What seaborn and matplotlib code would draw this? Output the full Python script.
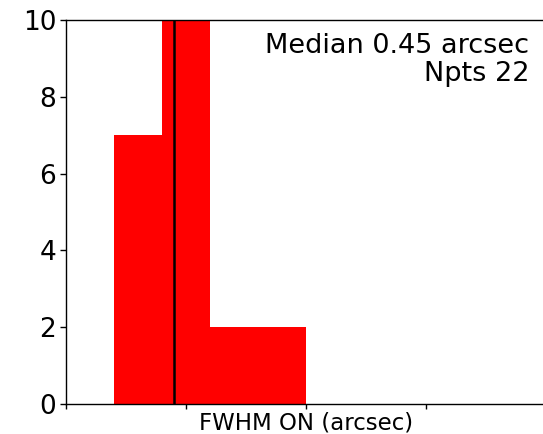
import numpy as np
import pandas as pd
import matplotlib
matplotlib.use("Agg")
import matplotlib.pyplot as plt
import seaborn as sns

# Histogram of seeing FWHM values (arcsec)
bin_edges = [0.2, 0.4, 0.6, 0.8, 1.0]
bin_counts = [7, 11, 2, 2]
median_fwhm = 0.45
n_points = 22
x_ticks = [0.0, 0.5, 1.0, 1.5, 2.0]
y_ticks = [0, 2, 4, 6, 8, 10]

bin_centers = [(a + b) / 2 for a, b in zip(bin_edges[:-1], bin_edges[1:])]
df = pd.DataFrame({"fwhm": bin_centers, "count": bin_counts})

sns.set_style("ticks")
plt.rcParams["font.family"] = ["DejaVu Sans"]
plt.rcParams["xtick.direction"] = "out"
plt.rcParams["ytick.direction"] = "out"

fig = plt.figure(figsize=(5.43, 4.34), dpi=100)
ax = fig.add_axes([66 / 543, 1 - 404 / 434, 480 / 543, 384 / 434])

sns.histplot(data=df, x="fwhm", weights="count", bins=bin_edges,
             color="red", alpha=1.0, edgecolor="none", linewidth=0, ax=ax)

ax.axvline(median_fwhm, color="black", linewidth=1.8)

ax.set_xlim(0, 2.0)
ax.set_ylim(0, 10)
ax.set_xticks(x_ticks)
ax.set_xticklabels([])
ax.set_yticks(y_ticks)
ax.tick_params(axis="y", labelsize=19, length=4, width=1, pad=3,
               color="black", labelcolor="black")
ax.tick_params(axis="x", length=3.5, width=1, color="black")
ax.set_ylabel("")
ax.set_xlabel("FWHM ON (arcsec)", fontsize=16.5, labelpad=-1.5, color="black")

for side in ["left", "top", "bottom"]:
    ax.spines[side].set_visible(True)
    ax.spines[side].set_color("black")
    ax.spines[side].set_linewidth(1.0)
ax.spines["right"].set_visible(False)

ax.text(0.965, 0.965, f"Median {median_fwhm:.2f} arcsec\nNpts {n_points}",
        transform=ax.transAxes, ha="right", va="top", fontsize=19.5,
        color="black", multialignment="right", linespacing=1.1)

fig.savefig("out.png", dpi=100)
